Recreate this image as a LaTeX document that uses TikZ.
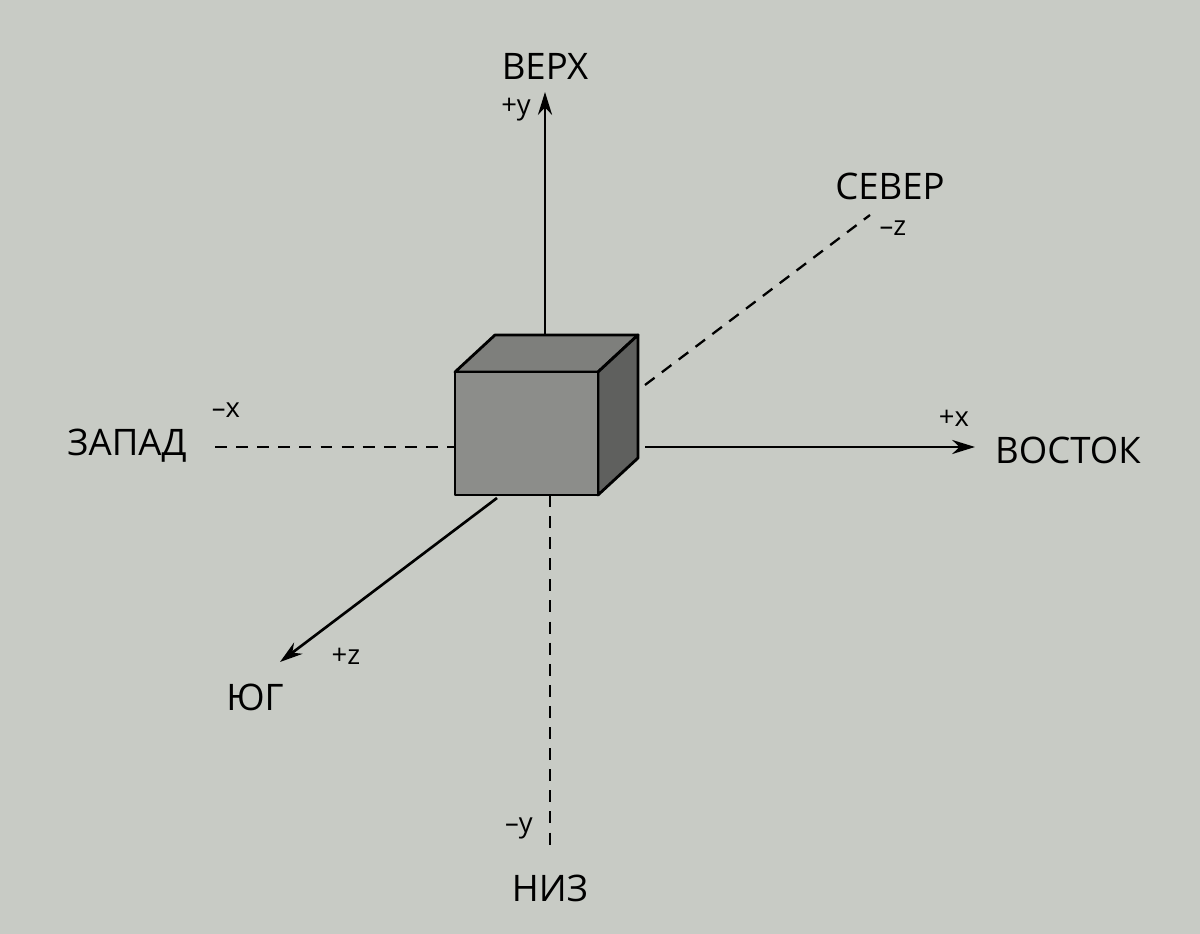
\documentclass[tikz,border=0pt]{standalone}
\usepackage{fontspec}
\setmainfont{Open Sans}
\usetikzlibrary{arrows.meta}
\definecolor{bg}{HTML}{C8CBC5}
\definecolor{front}{HTML}{8C8D8A}
\definecolor{topf}{HTML}{7E7F7C}
\definecolor{side}{HTML}{5F605E}
\begin{document}
\begin{tikzpicture}[x=0.01cm,y=-0.01cm,
  ax/.style={line width=0.75pt,-{Stealth[length=6.5pt,width=4pt]}},
  dax/.style={line width=0.65pt,dash pattern=on 3.4pt off 2.6pt},
  big/.style={font=\fontsize{10.4}{12}\selectfont},
  small/.style={font=\fontsize{7.8}{9}\selectfont},
  face/.style={draw=black,line width=0.8pt,line join=round}]
\fill[bg] (0,0) rectangle (1200,934);
\useasboundingbox (0,0) rectangle (1200,934);
\coordinate (ft) at (545,335);
\coordinate (tp) at (545,92);
\coordinate (er) at (645,447);
\coordinate (ee) at (975,447);
\coordinate (ws) at (215,447);
\coordinate (we) at (455,447);
\coordinate (ds) at (550,495);
\coordinate (de) at (550,845);
\coordinate (ns) at (645,385);
\coordinate (ne) at (870,215);
\coordinate (ss) at (497,498);
\coordinate (se) at (280,662);
\draw[ax] (ft) -- (tp);
\draw[ax] (er) -- (ee);
\draw[dax] (ws) -- (we);
\draw[dax] (ds) -- (de);
\draw[dax] (ns) -- (ne);
\draw[ax] (ss) -- (se);
\draw[face,fill=topf] (455,372) -- (495,335) -- (638,335) -- (598,372) -- cycle;
\draw[face,fill=side] (598,372) -- (638,335) -- (638,458) -- (598,495) -- cycle;
\draw[face,fill=front] (455,372) rectangle (598,495);
\node[big] (verh) at (545,66) {ВЕРХ};
\node[small] (py) at (516,110) {+y};
\node[big] (sever) at (890,186) {СЕВЕР};
\node[small] (mz) at (893,228) {–z};
\node[small] (mx) at (226,410) {–x};
\node[big] (zapad) at (127,446) {ЗАПАД};
\node[small] (px) at (954,418) {+x};
\node[big] (vostok) at (1068,450) {ВОСТОК};
\node[small] (pz) at (346,656) {+z};
\node[big] (yug) at (255,697) {ЮГ};
\node[small] (my) at (519,828) {–y};
\node[big] (niz) at (550,888) {НИЗ};
\end{tikzpicture}
\end{document}
